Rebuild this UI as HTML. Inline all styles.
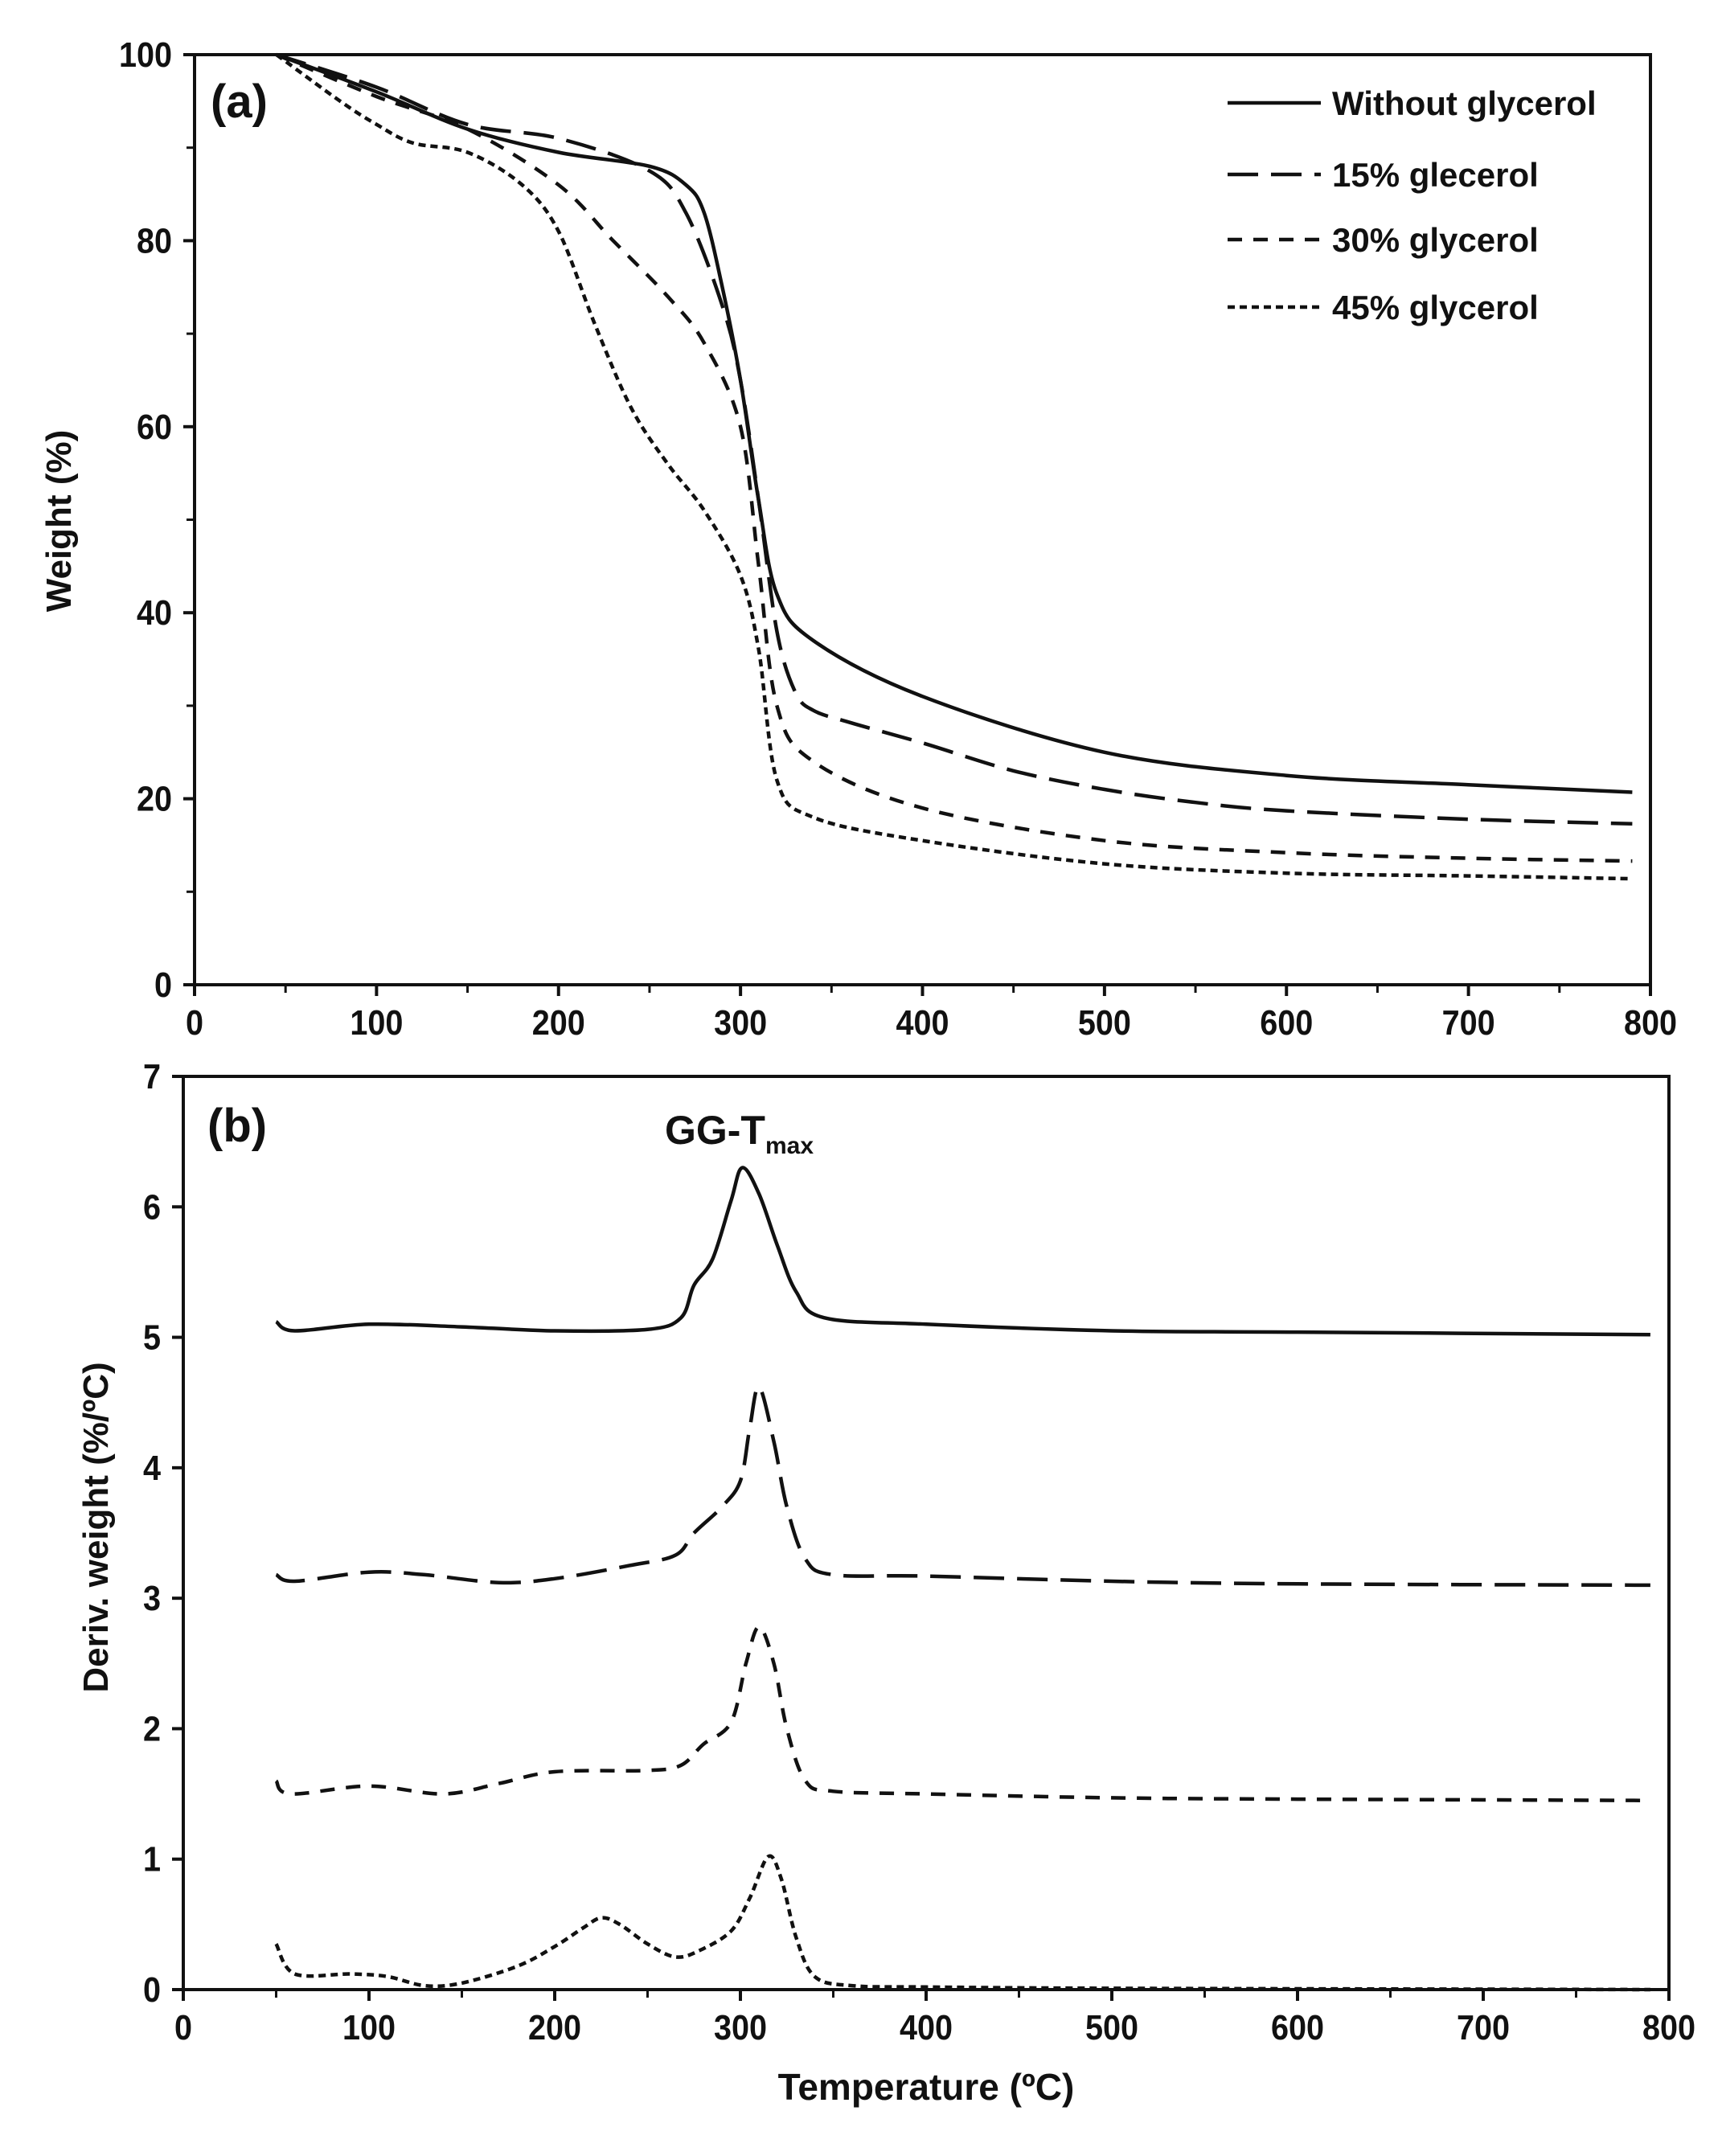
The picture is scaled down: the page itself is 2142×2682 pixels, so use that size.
<!DOCTYPE html>
<html><head><meta charset="utf-8"><style>
html,body{margin:0;padding:0;background:#fff}
svg{display:block}
text{font-family:"Liberation Sans",Arial,sans-serif;fill:#111}
</style></head><body>
<svg id="chart" width="2142" height="2682" viewBox="0 0 2142 2682" xmlns="http://www.w3.org/2000/svg">
<g id="pa"></g>
<g id="pb"></g>
</svg>
<script>
// Panel (a) TGA data
const aNoneT=[45,100,150,200,250,270,280,290,300,310,320,340,400,500,600,700,790];
const aNoneW=[100,96,92,89.5,88,86,83,75,65,52,42,37,31,25,22.5,21.5,20.7];
const a15T=[45,100,150,200,250,270,290,300,310,320,330,340,360,400,450,500,550,600,700,790];
const a15W=[100,96.5,92.5,91,87.5,83,73,65,52,38,31.5,29.5,28.2,26,23.0,21,19.6,18.7,17.8,17.3];
const a30T=[45,100,150,200,230,260,280,300,310,320,340,400,500,600,700,790];
const a30W=[100,95.5,92,86,80,74,69,60,45,30,24,19,15.5,14.2,13.6,13.3];
const a45T=[45,80,100,120,150,180,200,220,240,260,280,300,310,320,340,400,500,600,700,790];
const a45W=[100,95,92.5,90.5,89.5,86,81,71,62,56,51,44,36,22,18,15.5,13,12,11.7,11.4];
// Panel (b) DTG data
const bNoneT=[50,60,100,150,200,250,268,275,285,295,301,310,320,330,345,400,500,600,790];
const bNoneD=[5.12,5.05,5.1,5.08,5.05,5.06,5.15,5.4,5.6,6.05,6.3,6.1,5.7,5.35,5.15,5.1,5.05,5.04,5.02];
const b15T=[50,60,100,130,170,200,240,265,275,290,300,305,310,318,325,335,350,400,500,600,790];
const b15D=[3.18,3.13,3.2,3.18,3.12,3.15,3.25,3.33,3.5,3.7,3.9,4.3,4.62,4.2,3.7,3.3,3.18,3.17,3.13,3.11,3.1];
const b30T=[50,58,100,140,170,200,250,268,280,295,303,310,318,325,335,350,400,500,600,785];
const b30D=[1.6,1.5,1.56,1.5,1.58,1.67,1.68,1.72,1.88,2.05,2.5,2.78,2.5,2.0,1.6,1.52,1.5,1.47,1.46,1.45];
const b45T=[50,60,90,110,130,150,180,200,215,225,235,250,265,278,295,305,315,322,330,340,360,400,500,790];
const b45D=[0.35,0.12,0.12,0.1,0.03,0.05,0.18,0.33,0.47,0.55,0.5,0.35,0.25,0.3,0.45,0.7,1.02,0.85,0.4,0.1,0.03,0.02,0.01,0.0];
const xTicks=[0,100,200,300,400,500,600,700,800];
const aYTicks=[0,20,40,60,80,100];
const bYTicks=[0,1,2,3,4,5,6,7];
const legendLabels=["Without glycerol","15% glecerol","30% glycerol","45% glycerol"];

const NS="http://www.w3.org/2000/svg";
function mk(parent,tag,attrs){const e=document.createElementNS(NS,tag);for(const k in attrs)e.setAttribute(k,attrs[k]);parent.appendChild(e);return e;}
const dashes=["none","38 16","18 14","9 6"];

function smoothPath(pts){
  let d="M"+pts[0][0].toFixed(1)+","+pts[0][1].toFixed(1);
  for(let i=0;i<pts.length-1;i++){
    const p0=pts[i-1]||pts[i],p1=pts[i],p2=pts[i+1],p3=pts[i+2]||p2;
    const c1=[p1[0]+(p2[0]-p0[0])/6,p1[1]+(p2[1]-p0[1])/6];
    const c2=[p2[0]-(p3[0]-p1[0])/6,p2[1]-(p3[1]-p1[1])/6];
    d+="C"+c1[0].toFixed(1)+","+c1[1].toFixed(1)+" "+c2[0].toFixed(1)+","+c2[1].toFixed(1)+" "+p2[0].toFixed(1)+","+p2[1].toFixed(1);
  }
  return d;
}

function panel(g,cfg){
  const X=v=>cfg.x0+(cfg.x1-cfg.x0)*v/800;
  const Y=v=>cfg.y0+(cfg.yTop-cfg.y0)*v/cfg.ymax;
  const frame=mk(g,"rect",{x:X(0),y:Y(cfg.ymax),width:X(800)-X(0),height:Y(0)-Y(cfg.ymax),fill:"none",stroke:"#111","stroke-width":4});
  
  
  xTicks.forEach(t=>{
    const tk=mk(g,"line",{x1:X(t),x2:X(t),y1:Y(0),y2:Y(0)+14,stroke:"#111","stroke-width":4});
    
    
    if(t<800){const m=mk(g,"line",{x1:X(t+50),x2:X(t+50),y1:Y(0),y2:Y(0)+10,stroke:"#111","stroke-width":3});
      
      }
    const lb=mk(g,"text",{x:0,y:0,"text-anchor":"middle","font-size":44,"font-weight":"bold",transform:"translate("+X(t)+","+(Y(0)+62)+") scale(0.9,1)"});
    lb.textContent=t;
    
    
  });
  cfg.yTicks.forEach((t,i)=>{
    const tk=mk(g,"line",{x1:X(0)-14,x2:X(0),y1:Y(t),y2:Y(t),stroke:"#111","stroke-width":4});
    
    
    if(cfg.minor&&i<cfg.yTicks.length-1){const mv=(t+cfg.yTicks[i+1])/2;
      const m=mk(g,"line",{x1:X(0)-10,x2:X(0),y1:Y(mv),y2:Y(mv),stroke:"#111","stroke-width":3});
      
      }
    const lb=mk(g,"text",{x:0,y:0,"text-anchor":"end","font-size":44,"font-weight":"bold",transform:"translate("+(X(0)-28)+","+(Y(t)+15)+") scale(0.9,1)"});
    lb.textContent=t;
    
    
  });
  cfg.series.forEach((s,i)=>{
    const pts=s[0].map((t,j)=>[X(t),Y(s[1][j])]);
    const p=mk(g,"path",{d:smoothPath(pts),fill:"none",stroke:"#111","stroke-width":4.5,"stroke-dasharray":dashes[i],"stroke-linejoin":"round"});
    
    
  });
}

const pa=document.getElementById('pa'), pb=document.getElementById('pb');
panel(pa,{x0:242,x1:2053,y0:1225,yTop:68,ymax:100,yTicks:aYTicks,minor:true,
  series:[[aNoneT,aNoneW],[a15T,a15W],[a30T,a30W],[a45T,a45W]],
  names:["tga-line-without-glycerol","tga-line-15pct","tga-line-30pct","tga-line-45pct"]});
panel(pb,{x0:228,x1:2076,y0:2475,yTop:1339,ymax:7,yTicks:bYTicks,minor:false,
  series:[[bNoneT,bNoneD],[b15T,b15D],[b30T,b30D],[b45T,b45D]],
  names:["dtg-line-without-glycerol","dtg-line-15pct","dtg-line-30pct","dtg-line-45pct"]});

// Legend
const legRows=[128,217,298,382];
legendLabels.forEach((l,i)=>{
  const ln=mk(pa,"line",{x1:1527,x2:1643,y1:legRows[i],y2:legRows[i],stroke:"#111","stroke-width":4.5,"stroke-dasharray":dashes[i]});
  
  
  const t=mk(pa,"text",{x:1657,y:legRows[i]+15,"font-size":42,"font-weight":"bold"});
  t.textContent=l;
  
  
});
// labels
function label(g,txt,attrs,name){const t=mk(g,"text",attrs);t.textContent=txt;return t;}
label(pa,"(a)",{x:262,y:146,"font-size":58,"font-weight":"bold"},"panel-a-label");
label(pb,"(b)",{x:258,y:1420,"font-size":58,"font-weight":"bold"},"panel-b-label");
label(pa,"Weight (%)",{x:0,y:0,"font-size":44,"font-weight":"bold","text-anchor":"middle",transform:"translate(88,648) rotate(-90)"},"y-axis-title-a");
label(pb,"Deriv. weight (%/\u00baC)",{x:0,y:0,"font-size":44,"font-weight":"bold","text-anchor":"middle",transform:"translate(134,1900) rotate(-90)"},"y-axis-title-b");
label(pb,"Temperature (\u00baC)",{x:1152,y:2612,"font-size":46,"font-weight":"bold","text-anchor":"middle"},"x-axis-title");
const gg=label(pb,"GG-T",{x:827,y:1423,"font-size":50,"font-weight":"bold"},"gg-tmax-annotation");
const sub=mk(gg,"tspan",{"font-size":30,dy:12});sub.textContent="max";
</script>
</body></html>
